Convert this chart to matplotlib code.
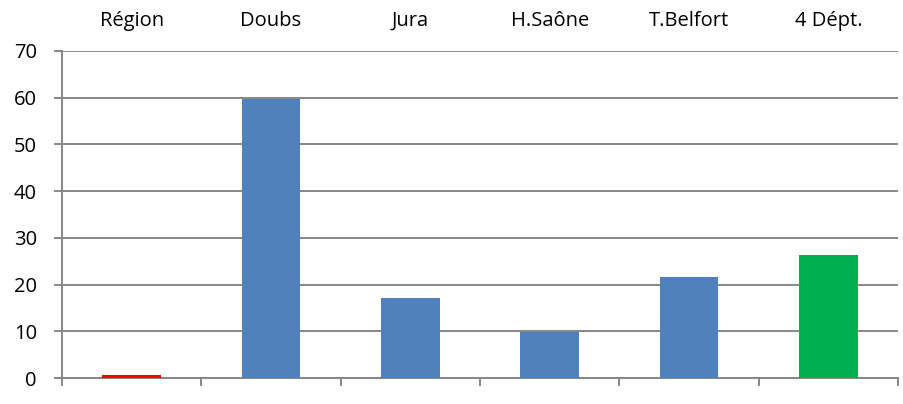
import matplotlib
matplotlib.use("Agg")
import matplotlib.pyplot as plt
import numpy as np

categories = ["Région", "Doubs", "Jura", "H.Saône", "T.Belfort", "4 Dépt."]
values = [0.6, 59.8, 17.1, 9.8, 21.6, 26.3]
colors = ["#ff0000", "#4f81bd", "#4f81bd", "#4f81bd", "#4f81bd", "#00b050"]
yticks = [0, 10, 20, 30, 40, 50, 60, 70]

plt.rcParams['font.family'] = ['Open Sans', 'DejaVu Sans']

fig = plt.figure(figsize=(9.04, 4.04), dpi=100)
ax = fig.add_axes([62/904, 26/404, 836/904, 327/404])

x = np.arange(len(categories))
ax.bar(x, values, width=0.42, color=colors, zorder=3)

ax.set_xlim(-0.5, len(categories) - 0.5)
ax.set_ylim(0, 70)
ax.set_yticks(yticks)
ax.yaxis.grid(True, color="#878787", linewidth=1.4, zorder=0)
ax.set_axisbelow(True)

gray = "#868686"
for s in ["top", "right"]:
    ax.spines[s].set_visible(False)
ax.spines["left"].set_color(gray)
ax.spines["bottom"].set_color(gray)
ax.spines["left"].set_linewidth(1.4)
ax.spines["bottom"].set_linewidth(1.4)

ax.tick_params(axis="y", direction="out", length=6, width=1.4, color=gray,
               labelsize=14.5, pad=12, labelcolor="black")

# category labels on top
ax.set_xticks(x)
ax.set_xticklabels(categories)
ax.tick_params(axis="x", which="major", bottom=False, top=False,
               labelbottom=False, labeltop=True, labelsize=14.5, pad=11)
# boundary ticks at the bottom
ax.set_xticks(np.arange(len(categories) + 1) - 0.5, minor=True)
ax.tick_params(axis="x", which="minor", bottom=True, direction="out",
               length=6, width=1.4, color=gray)

fig.savefig("out.png", dpi=100)
